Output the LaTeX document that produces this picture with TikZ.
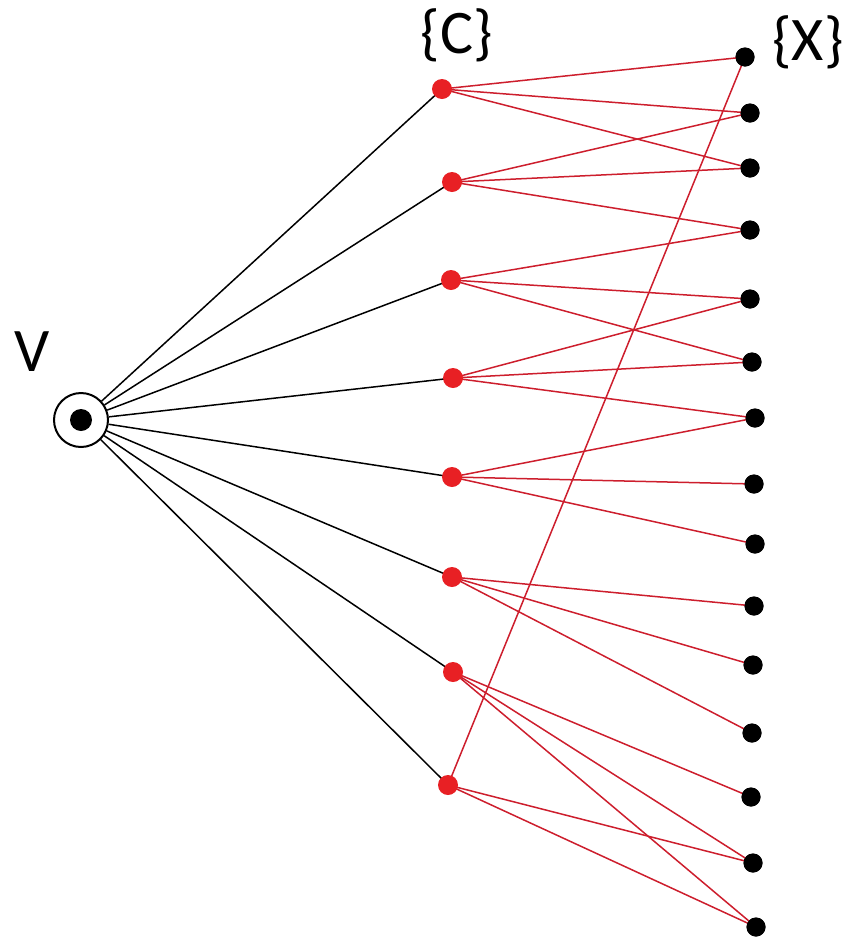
\documentclass[tikz,border=0pt]{standalone}
\usepackage{fontspec}
\setmainfont{Carlito}
\definecolor{dotred}{RGB}{232,32,36}
\definecolor{linered}{RGB}{205,30,45}
\begin{document}
\begin{tikzpicture}[x=1pt,y=-1pt,
  cnode/.style={circle,fill=dotred,inner sep=0pt,minimum size=20pt},
  xnode/.style={circle,fill=black,inner sep=0pt,minimum size=19pt},
  vnode/.style={circle,draw=black,line width=2pt,fill=white,inner sep=0pt,minimum size=54pt},
  blk/.style={draw=black,line width=1.5pt},
  rd/.style={draw=linered,line width=1.5pt},
  lab/.style={font=\fontsize{62}{62}\selectfont,inner sep=0pt}]
\useasboundingbox (0,0) rectangle (843,943);
\node[vnode] (V) at (81,420) {};
\fill[black] (V.center) circle (11);
\node[lab] (Vl) at (32,352) {V};
\node[lab] (Cl) at (457,35) {\{C\}};
\node[lab] (Xl) at (808,42) {\{X\}};
% C nodes
\foreach \i/\x/\y in {1/442/89,2/452/182,3/451/280,4/453/378,5/452/477,6/452/577,7/453/672,8/448/785}
  \coordinate (Cp\i) at (\x,\y);
% X nodes
\foreach \i/\x/\y in {1/745/57,2/750/113,3/750/168,4/750/230,5/750/299,6/752/362,7/755/418,8/754/484,9/755/544,10/754/606,11/753/665,12/752/733,13/751/797,14/753/863,15/756/927}
  \node[xnode] (X\i) at (\x,\y) {};
% black edges
\foreach \i in {1,...,8} \draw[blk] (V) -- (Cp\i);
% red edges
\foreach \c/\a/\b/\d in {1/1/2/3,2/2/3/4,3/4/5/6,4/5/6/7,5/7/8/9,6/10/11/12,7/13/14/15,8/1/14/15}{
  \draw[rd] (Cp\c) -- (X\a.center);
  \draw[rd] (Cp\c) -- (X\b.center);
  \draw[rd] (Cp\c) -- (X\d.center);
}
\foreach \i in {1,...,8} \node[cnode] (C\i) at (Cp\i) {};
\foreach \i in {1,...,15} \fill[black] (X\i) circle (9.5);
\end{tikzpicture}
\end{document}
